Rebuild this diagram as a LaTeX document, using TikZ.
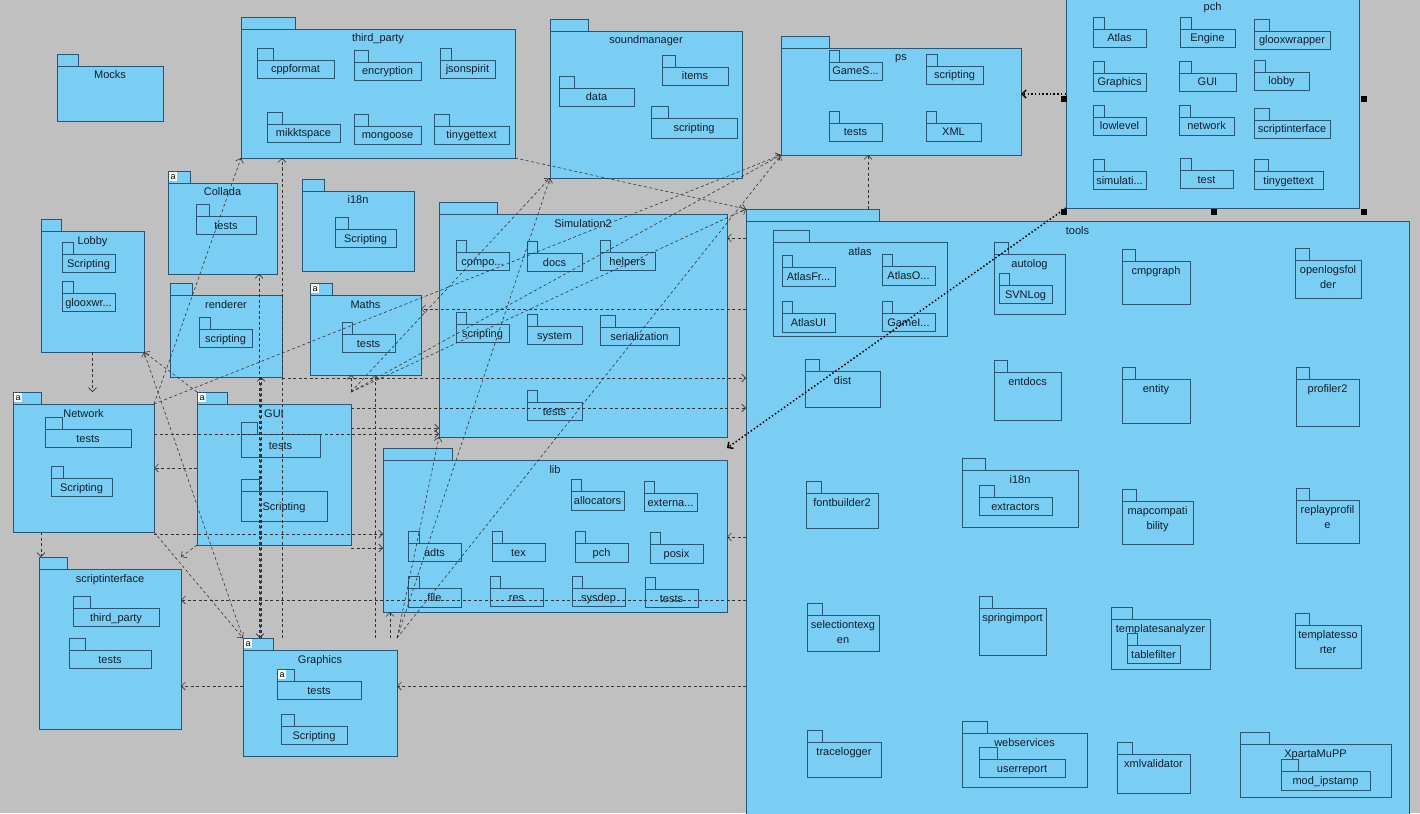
\documentclass[tikz,border=0pt]{standalone}
\usepackage{fontspec}
\setmainfont{Liberation Sans}
\usetikzlibrary{arrows.meta,fit}

\definecolor{bgc}{RGB}{192,192,192}
\definecolor{pkgfill}{RGB}{122,206,244}
\definecolor{pkgline}{RGB}{40,86,116}
\definecolor{depline}{RGB}{52,52,52}
\definecolor{pkgtext}{RGB}{16,30,44}

% package with its name at the top
\newcommand{\umlpkg}[5]{%
  \node[pkg, fit={(#2) (#3)}] (#1) {};
  \coordinate (#1 t) at ([yshift=12pt]#1.north west);
  \draw[pkgtab] (#1.north west) rectangle ([xshift=#4pt]#1 t);
  \node[pkglabel] at ([yshift=-13pt]#1.north) {#5};
}
% same, name on two lines
\newcommand{\umlpkgii}[6]{%
  \umlpkg{#1}{#2}{#3}{#4}{#5}
  \node[pkglabel] at ([yshift=-28pt]#1.north) {#6};
}
% small package, name in the middle
\newcommand{\umlsub}[5]{%
  \node[pkg, fit={(#2) (#3)}] (#1) {};
  \coordinate (#1 t) at ([yshift=12pt]#1.north west);
  \draw[pkgtab] (#1.north west) rectangle ([xshift=#4pt]#1 t);
  \node[pkglabel] at ([yshift=-4pt]#1.center) {#5};
}
\newcommand{\aicon}[1]{\node[aicon] at ([shift={(1pt,-1pt)}]#1 t) {a};}

\begin{document}
\begin{tikzpicture}[x=1pt, y=-1pt, >={Straight Barb[length=4pt,width=8pt]},
    pkg/.style={draw=pkgline, fill=pkgfill, line width=0.7pt, inner sep=0pt,
                outer sep=0pt},
    pkgtab/.style={draw=pkgline, fill=pkgfill, line width=0.7pt},
    pkglabel/.style={anchor=base, inner sep=0pt, text=pkgtext,
                     font=\fontsize{11}{13}\selectfont},
    aicon/.style={anchor=north west, fill=white, text=black, inner sep=0pt,
                  minimum width=8pt, minimum height=9pt, font=\fontsize{9}{9}\selectfont},
    dep/.style={->, draw=depline, line width=0.6pt, dash pattern=on 3pt off 2.5pt},
    depbold/.style={->, draw=black, line width=1.5pt, dash pattern=on 1.5pt off 2.2pt},
    handle/.style={fill=black, inner sep=0pt, minimum size=6pt}]

\useasboundingbox (0,0) rectangle (1420,813);
\fill[bgc] (0,0) rectangle (1420,813);
\clip (0,0) rectangle (1420,813);

% top row
\umlpkg{Mocks}{57,66}{163,121}{21}{Mocks}

\umlpkg{thirdparty}{241,29}{515,158}{54}{third\_party}
\umlsub{tp-cppformat}{257,60}{334,78}{16}{cppformat}
\umlsub{tp-encryption}{354,62}{421,80}{14}{encryption}
\umlsub{tp-jsonspirit}{440,60}{495,78}{11}{jsonspirit}
\umlsub{tp-mikktspace}{267,124}{340,142}{15}{mikktspace}
\umlsub{tp-mongoose}{354,126}{421,144}{14}{mongoose}
\umlsub{tp-tinygettext}{434,126}{509,144}{15}{tinygettext}

\umlpkg{soundmanager}{550,31}{742,178}{38}{soundmanager}
\umlsub{sm-items}{662,67}{728,85}{13}{items}
\umlsub{sm-data}{559,88}{634,106}{15}{data}
\umlsub{sm-scripting}{651,118}{737,138}{17}{scripting}

\umlpkg{ps}{781,48}{1021,155}{48}{ps}
\umlsub{ps-games}{829,62}{882,80}{10}{GameS...}
\umlsub{ps-scripting}{926,66}{983,84}{11}{scripting}
\umlsub{ps-tests}{829,123}{882,141}{10}{tests}
\umlsub{ps-xml}{926,123}{981,141}{10}{XML}

\umlpkg{pch}{1066,-2}{1359,208}{48}{pch}
\umlsub{pch-atlas}{1093,29}{1146,47}{11}{Atlas}
\umlsub{pch-engine}{1180,29}{1235,47}{11}{Engine}
\umlsub{pch-gloox}{1254,31}{1330,49}{15}{glooxwrapper}
\umlsub{pch-graphics}{1093,73}{1146,91}{11}{Graphics}
\umlsub{pch-gui}{1179,73}{1236,91}{12}{GUI}
\umlsub{pch-lobby}{1254,72}{1309,90}{11}{lobby}
\umlsub{pch-lowlevel}{1093,117}{1146,135}{11}{lowlevel}
\umlsub{pch-network}{1179,117}{1234,135}{11}{network}
\umlsub{pch-script}{1254,120}{1330,138}{15}{scriptinterface}
\umlsub{pch-sim}{1093,171}{1146,189}{11}{simulati...}
\umlsub{pch-test}{1180,170}{1233,188}{11}{test}
\umlsub{pch-tiny}{1254,171}{1323,189}{14}{tinygettext}

% middle left
\umlpkg{Collada}{168,183}{277,274}{22}{Collada}
\aicon{Collada}
\umlsub{co-tests}{196,216}{256,234}{13}{tests}

\umlpkg{i18n}{302,191}{414,271}{22}{i18n}
\umlsub{i18n-scripting}{335,229}{396,247}{13}{Scripting}

\umlpkg{Lobby}{41,231}{144,352}{20}{Lobby}
\umlsub{lo-scripting}{62,254}{115,272}{11}{Scripting}
\umlsub{lo-gloox}{62,293}{115,311}{11}{glooxwr...}

\umlpkg{renderer}{170,295}{282,377}{22}{renderer}
\umlsub{re-scripting}{199,329}{252,347}{11}{scripting}

\umlpkg{Maths}{310,295}{421,375}{22}{Maths}
\aicon{Maths}
\umlsub{ma-tests}{342,334}{395,352}{10}{tests}

\umlpkg{Simulation2}{439,214}{727,437}{58}{Simulation2}
\umlsub{si-compo}{456,252}{509,270}{10}{compo...}
\umlsub{si-docs}{527,253}{582,271}{10}{docs}
\umlsub{si-helpers}{600,252}{655,270}{10}{helpers}
\umlsub{si-scripting}{456,324}{509,342}{10}{scripting}
\umlsub{si-system}{527,326}{582,344}{10}{system}
\umlsub{si-serial}{600,327}{679,345}{15}{serialization}
\umlsub{si-tests}{527,402}{582,420}{10}{tests}

\umlpkg{Network}{13,404}{154,532}{28}{Network}
\aicon{Network}
\umlsub{ne-tests}{45,429}{131,447}{17}{tests}
\umlsub{ne-scripting}{51,478}{112,496}{12}{Scripting}

\umlpkg{GUI}{197,404}{351,545}{30}{GUI}
\aicon{GUI}
\umlsub{gu-tests}{241,434}{320,457}{16}{tests}
\umlsub{gu-scripting}{241,491}{327,521}{18}{Scripting}

\umlpkg{scriptinterface}{39,569}{181,729}{28}{scriptinterface}
\umlsub{sc-thirdparty}{73,608}{159,626}{17}{third\_party}
\umlsub{sc-tests}{69,650}{151,668}{16}{tests}

\umlpkg{lib}{383,460}{727,612}{69}{lib}
\umlsub{li-alloc}{571,491}{624,510}{10}{allocators}
\umlsub{li-extern}{644,493}{697,511}{10}{externa...}
\umlsub{li-adts}{408,543}{461,561}{11}{adts}
\umlsub{li-tex}{492,543}{545,561}{10}{tex}
\umlsub{li-pch}{575,543}{628,562}{10}{pch}
\umlsub{li-posix}{650,544}{703,563}{10}{posix}
\umlsub{li-file}{408,588}{461,607}{11}{file}
\umlsub{li-res}{490,588}{543,606}{10}{res}
\umlsub{li-sysdep}{572,588}{625,606}{10}{sysdep}
\umlsub{li-tests}{645,589}{698,607}{10}{tests}

\umlpkg{Graphics}{243,650}{397,756}{30}{Graphics}
\aicon{Graphics}
\umlsub{gr-tests}{277,681}{361,699}{17}{tests}
\aicon{gr-tests}
\umlsub{gr-scripting}{281,726}{347,744}{13}{Scripting}

% tools
\umlpkg{tools}{746,221}{1409,820}{133}{tools}
\umlpkg{to-atlas}{773,242}{947,336}{36}{atlas}
\umlsub{at-fr}{782,267}{835,286}{10}{AtlasFr...}
\umlsub{at-o}{882,266}{935,285}{10}{AtlasO...}
\umlsub{at-ui}{782,313}{835,332}{10}{AtlasUI}
\umlsub{at-game}{882,313}{935,331}{10}{GameI...}
\umlpkg{to-autolog}{994,254}{1065,314}{14}{autolog}
\umlsub{au-svn}{999,285}{1052,303}{10}{SVNLog}
\umlpkg{to-cmpgraph}{1122,261}{1190,304}{13}{cmpgraph}
\umlpkgii{to-openlogs}{1295,260}{1361,298}{14}{openlogsfol}{der}
\umlpkg{to-dist}{805,371}{880,407}{14}{dist}
\umlpkg{to-entdocs}{994,372}{1061,420}{13}{entdocs}
\umlpkg{to-entity}{1122,379}{1190,423}{13}{entity}
\umlpkg{to-profiler}{1296,379}{1359,426}{13}{profiler2}
\umlpkg{to-fontbuilder}{806,493}{878,528}{15}{fontbuilder2}
\umlpkg{to-i18n}{962,470}{1078,527}{23}{i18n}
\umlsub{i1-extract}{979,497}{1052,515}{15}{extractors}
\umlpkgii{to-mapcompat}{1122,501}{1193,544}{14}{mapcompati}{bility}
\umlpkgii{to-replay}{1296,500}{1359,543}{13}{replayprofil}{e}
\umlpkgii{to-seltex}{807,615}{879,651}{15}{selectiontexg}{en}
\umlpkg{to-spring}{979,608}{1046,655}{13}{springimport}
\umlpkg{to-tanalyzer}{1111,619}{1210,669}{21}{templatesanalyzer}
\umlsub{ta-filter}{1127,645}{1180,663}{10}{tablefilter}
\umlpkgii{to-tsorter}{1295,625}{1361,668}{14}{templatesso}{rter}
\umlpkg{to-tracelog}{807,742}{881,777}{15}{tracelogger}
\umlpkg{to-websvc}{962,733}{1087,787}{25}{webservices}
\umlsub{we-userreport}{979,759}{1065,777}{18}{userreport}
\umlpkg{to-xmlval}{1117,754}{1190,793}{15}{xmlvalidator}
\umlpkg{to-xparta}{1240,744}{1391,797}{29}{XpartaMuPP}
\umlsub{xp-ipstamp}{1281,771}{1370,790}{17}{mod\_ipstamp}

% dependencies
\draw[dep] (Lobby.south) -- (Lobby.south |- Network t);
\draw[dep] ([xshift=28pt]Network.south west) -- ([xshift=28pt]Network.south west |- scriptinterface t);
\draw[dep] (GUI.west |- 0,468) -- (Network.east |- 0,468);
\draw[dep] (Network.east |- 0,434) -- (Simulation2.west |- 0,434);
\draw[dep] (GUI.east |- 0,428) -- (Simulation2.west |- 0,428);
\draw[dep] (GUI.east |- 0,408) -- (tools.west |- 0,408);
\draw[dep] (renderer.east |- 0,378) -- (tools.west |- 0,378);
\draw[dep] (tools.west |- 0,309) -- (Maths.east |- 0,309);
\draw[dep] (tools.west |- 0,238) -- (Simulation2.east |- 0,238);
\draw[dep] (tools.west |- 0,537) -- (lib.east |- 0,537);
\draw[dep] (tools.west |- 0,600) -- (scriptinterface.east |- 0,600);
\draw[dep] (Graphics.west |- 0,686) -- (scriptinterface.east |- 0,686);
\draw[dep] (tools.west |- 0,686) -- (Graphics.east |- 0,686);
\draw[dep] (Network.east |- 0,534) -- (lib.west |- 0,534);
\draw[dep] (GUI.east |- 0,548) -- (lib.west |- 0,548);
\draw[dep] (GUI.south west) -- (scriptinterface.north east |- scriptinterface t);
\draw[dep] (tools t -| 868,0) -- (ps.south -| 868,0);
\draw[dep] (thirdparty.south east) -- (tools t);
\draw[dep] (Network.north east) -- (thirdparty.south west);
\draw[dep] (Network.north east) -- (ps.south west);
\draw[dep] (GUI t) -- (Lobby.south east);
\draw[dep] (Graphics t) -- (Lobby.south east);
\draw[dep] (Network.south east) -- (Graphics t);
\draw[dep] ([xshift=16pt]Graphics t) -- ([xshift=16pt]Graphics t |- Collada.south);
\draw[dep] ([xshift=18pt]Graphics t) -- ([xshift=18pt]Graphics t |- renderer.south);
\draw[dep] ([xshift=17pt]Graphics t |- renderer.south) -- ([xshift=17pt]Graphics t);
\draw[dep] ([xshift=39pt]Graphics t) -- ([xshift=39pt]Graphics t |- thirdparty.south);
\draw[dep] (GUI.north east |- GUI t) -- (GUI.north east |- Maths.south);
\draw[dep] ([xshift=132pt]Graphics t) -- ([xshift=132pt]Graphics t |- Maths.south);
\draw[dep] ([xshift=147pt]Graphics t) -- ([xshift=147pt]Graphics t |- lib.south);
\draw[dep] (Graphics.north east |- Graphics t) -- (soundmanager.south west);
\draw[dep] (Graphics.north east |- Graphics t) -- (Simulation2.south west);
\draw[dep] (Graphics.north east |- Graphics t) -- (ps.south west);
\draw[dep] (GUI.north east |- GUI t) -- (soundmanager.south west);
\draw[dep] (GUI.north east |- GUI t) -- (ps.south west);
\draw[dep] (GUI.north east |- GUI t) -- (tools t);

% pch
\draw[depbold] (pch.west |- 0,94) -- (ps.east |- 0,94);
\draw[depbold] (pch.south west) -- (lib.north east |- lib t);

% selection handles
\node[handle] (h1) at (1064,99) {};
\node[handle] (h2) at (1364,99) {};
\node[handle] (h3) at (1064,212) {};
\node[handle] (h4) at (1214,212) {};
\node[handle] (h5) at (1364,212) {};
\end{tikzpicture}
\end{document}
